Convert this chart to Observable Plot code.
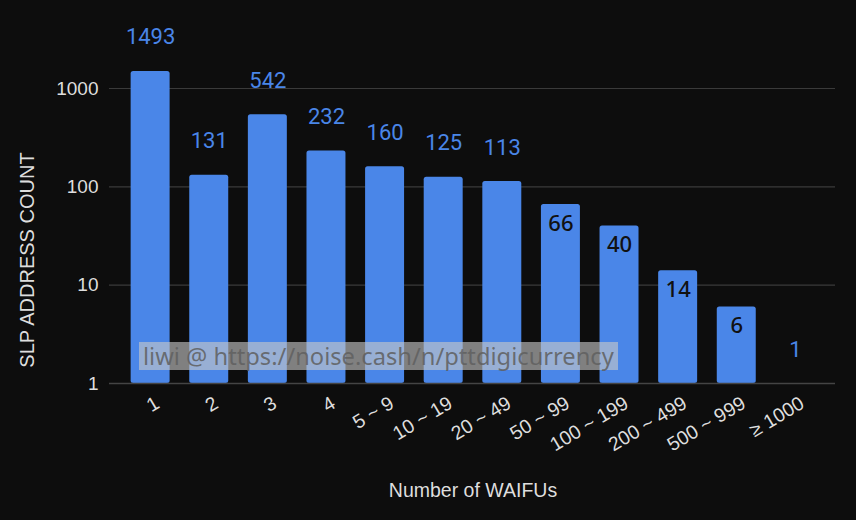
<!DOCTYPE html>
<html>
<head>
<meta charset="utf-8">
<script src="https://cdn.jsdelivr.net/npm/d3@7"></script>
<script src="https://cdn.jsdelivr.net/npm/@observablehq/plot@0.6"></script>
<style>
  html, body { margin: 0; padding: 0; background: #0d0d0d; }
  #wrap { position: relative; width: 856px; height: 520px; overflow: hidden; }
  #wm {
    position: absolute; left: 139px; top: 342px; height: 28px;
    background: rgba(200, 200, 200, 0.62);
    color: rgba(95, 95, 95, 0.85);
    font: 23.7px "Noto Sans", sans-serif; line-height: 28px;
    padding: 0 4px 0 4px; box-sizing: border-box; white-space: nowrap;
  }
</style>
</head>
<body>
<div id="wrap"></div>
<script>
const categories = ["1", "2", "3", "4", "5 ~ 9", "10 ~ 19", "20 ~ 49", "50 ~ 99", "100 ~ 199", "200 ~ 499", "500 ~ 999", "≥ 1000"];
const counts = [1493, 131, 542, 232, 160, 125, 113, 66, 40, 14, 6, 1];
const yTicks = [1, 10, 100, 1000];
const yLabel = "SLP ADDRESS COUNT";
const xLabel = "Number of WAIFUs";
const watermark = "liwi @ https://noise.cash/n/pttdigicurrency";

const data = categories.map((c, i) => ({category: c, value: counts[i]}));
const outside = data.filter(d => d.value >= 100 || d.value <= 1);
const inside = data.filter(d => d.value < 100 && d.value > 1);

const blue = "#4a86e8";
const textCol = "#dedede";

const chart = Plot.plot({
  width: 856,
  height: 520,
  marginLeft: 111,
  marginRight: 22,
  marginTop: 88,
  marginBottom: 137,
  style: {background: "#0d0d0d", color: textCol, fontFamily: "'Liberation Sans', Arial, sans-serif", overflow: "visible"},
  x: {domain: categories, padding: 0.335, round: false, axis: null},
  y: {type: "log", domain: [1, 1000], axis: null},
  marks: [
    Plot.ruleY(yTicks.filter(t => t > 1), {y: d => d, stroke: "#3a3a3a", strokeWidth: 1.2, insetLeft: -2, insetRight: -1}),
    Plot.barY(data, {x: "category", y1: () => 1, y2: "value", fill: blue, rx: 2.5}),
    Plot.ruleY([1], {stroke: "#444", strokeWidth: 1.5, insetLeft: -2, insetRight: -1}),
    Plot.text(outside, {x: "category", y: "value", text: d => String(d.value), dy: -34, fill: blue, fontSize: 22, fontFamily: "Roboto, sans-serif", lineAnchor: "middle"}),
    Plot.text(inside, {x: "category", y: "value", text: d => String(d.value), dy: 19, fill: "#111", fontSize: 22, fontWeight: 500, fontFamily: "'Noto Sans', sans-serif", lineAnchor: "middle"}),
    Plot.text(yTicks, {y: d => d, text: d => String(d), frameAnchor: "left", dx: -13, textAnchor: "end", fill: textCol, fontSize: 19, lineAnchor: "middle"}),
    Plot.text(categories, {x: d => d, y: () => 1, text: d => d, dx: 7, dy: 18, rotate: -31, textAnchor: "end", lineAnchor: "middle", fill: textCol, fontSize: 19.5}),
    Plot.text([yLabel], {frameAnchor: "left", text: d => d, dx: -84, dy: 24, rotate: -90, textAnchor: "middle", fill: textCol, fontSize: 20, lineAnchor: "middle"}),
    Plot.text([xLabel], {frameAnchor: "bottom", text: d => d, dy: 107, textAnchor: "middle", fill: textCol, fontSize: 19.5, lineAnchor: "middle"})
  ]
});

const wrap = document.getElementById("wrap");
wrap.appendChild(chart);
const wm = document.createElement("div");
wm.id = "wm";
wm.textContent = watermark;
wrap.appendChild(wm);
</script>
</body>
</html>
